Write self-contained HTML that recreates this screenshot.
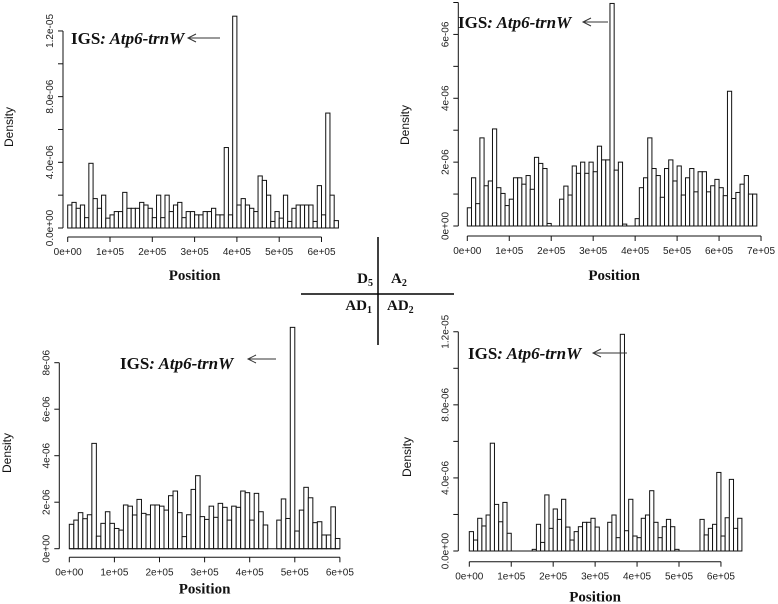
<!DOCTYPE html>
<html><head><meta charset="utf-8"><style>
html,body{margin:0;padding:0;background:#fff;}
svg{display:block;}
.tk{font-family:"Liberation Sans",sans-serif;font-size:10px;fill:#222;}
.ax{font-family:"Liberation Sans",sans-serif;font-size:12px;fill:#111;}
.pos{font-family:"Liberation Serif",serif;font-weight:bold;font-size:15px;fill:#111;}
.ann{font-family:"Liberation Serif",serif;font-weight:bold;font-size:17px;fill:#111;}
</style></head><body>
<svg id="fig" width="778" height="604" viewBox="0 0 778 604" xmlns="http://www.w3.org/2000/svg">
<g>
<line x1="378" y1="237" x2="378" y2="345" stroke="#000" stroke-width="1.5"/>
<line x1="301" y1="294" x2="454" y2="294" stroke="#000" stroke-width="1.5"/>
<text class="pos" x="373" y="283" text-anchor="end">D<tspan font-size="10" dy="3">5</tspan></text>
<text class="pos" x="391" y="283">A<tspan font-size="10" dy="3">2</tspan></text>
<text class="pos" x="372" y="310" text-anchor="end">AD<tspan font-size="10" dy="3">1</tspan></text>
<text class="pos" x="387" y="310">AD<tspan font-size="10" dy="3">2</tspan></text>
</g>
</svg>
<script>
// Values in units of 1e-6 density; bins of 1e4 bp
const d5Values=[1.4,1.56,1.2,1.4,0.63,3.94,1.79,1.2,2.0,0.6,0.8,1.0,1.0,2.17,1.2,1.2,1.2,1.56,1.4,1.2,0.63,2.0,0.63,2.0,1.0,1.4,1.56,0.63,1.0,1.0,0.8,0.8,1.0,1.0,1.2,0.8,0.8,4.9,0.8,12.9,1.4,1.79,1.4,1.2,1.0,3.17,2.9,2.0,0.4,1.0,0.6,2.0,0.4,1.2,1.4,1.4,1.4,1.4,0.4,2.58,0.8,7.0,2.0,0.45];
const a2Values=[0.57,1.51,0.7,2.76,1.26,1.41,3.04,1.2,1.02,0.64,0.84,1.51,1.51,1.31,1.58,1.15,2.15,1.96,1.8,0.08,0,0,0.84,1.25,0.97,1.88,1.65,2.0,1.65,2.0,1.7,2.5,2.07,2.07,6.97,1.75,2.0,0.06,0,0,0.23,1.2,1.51,2.76,1.8,1.58,0.9,1.8,2.07,1.41,1.88,0.97,1.51,1.8,1.07,1.7,1.7,1.07,1.26,1.46,1.2,0.95,4.22,0.86,1.05,1.31,1.58,1.0,1.0];
const ad1Values=[1.05,1.23,1.55,1.29,1.46,4.53,0.54,1.09,1.59,1.09,0.87,0.8,1.88,1.83,1.45,2.12,1.52,1.46,1.88,1.88,1.83,1.66,2.28,2.48,1.55,0.52,1.46,2.55,3.14,1.38,1.26,1.83,1.35,1.95,1.78,1.23,1.83,1.78,2.48,2.41,1.23,2.38,1.59,1.02,0,0,1.23,2.14,1.3,9.52,0.76,1.66,2.64,2.19,1.12,1.16,0.59,0.59,1.8,0.44];
const ad2Values=[1.06,0.6,1.79,1.37,1.97,5.9,2.55,1.6,2.66,0.97,0,0,0,0,0,0.09,1.46,0.47,3.07,1.24,2.3,1.73,2.83,1.31,0.6,1.06,1.33,1.57,1.57,1.79,1.31,0,0,1.57,1.97,0.73,11.86,1.11,2.83,0.82,0.73,1.79,1.97,3.3,1.57,0.73,1.33,1.73,1.33,0.09,0,0,0,0,0,1.73,0.88,1.24,1.46,4.3,0.82,1.82,3.92,1.24,1.79];
const xTicks6=["0e+00","1e+05","2e+05","3e+05","4e+05","5e+05","6e+05"];
const xTicks7=["0e+00","1e+05","2e+05","3e+05","4e+05","5e+05","6e+05","7e+05"];
const yTicksA=[0,4,8,12], yLabA=["0.0e+00","4.0e-06","8.0e-06","1.2e-05"];
const yTicksB=[0,2,4,6], yLabB=["0e+00","2e-06","4e-06","6e-06"];
const yTicksC=[0,2,4,6,8], yLabC=["0e+00","2e-06","4e-06","6e-06","8e-06"];
const NS="http://www.w3.org/2000/svg";
const svg=document.getElementById('fig');
function mk(tag,attrs,parent){const e=document.createElementNS(NS,tag);for(const k in attrs)e.setAttribute(k,attrs[k]);parent.appendChild(e);return e;}
function panel(p){
  const g=mk('g',{},svg);
  
  
  const sx=v=>p.x0+v*p.pxPer1e5/10;
  const sy=v=>p.base-v*p.pxPerUnit;
  p.values.forEach((v,i)=>{
    if(v<=0) return;
    const r=mk('rect',{x:sx(i),y:sy(v),width:p.pxPer1e5/10,height:p.base-sy(v),fill:'#fff',stroke:'#111','stroke-width':1},g);
    
    
  });
  mk('line',{x1:sx(0),y1:p.base,x2:sx(p.values.length),y2:p.base,stroke:'#111','stroke-width':1},g);
  const xa=mk('g',{},g);
  
  
  const xl=p.xTicks.length-1;
  mk('line',{x1:p.x0,y1:p.xAxisY,x2:p.x0+xl*p.pxPer1e5,y2:p.xAxisY,stroke:'#111','stroke-width':1},xa);
  p.xTicks.forEach((t,i)=>{
    const x=p.x0+i*p.pxPer1e5;
    mk('line',{x1:x,y1:p.xAxisY,x2:x,y2:p.xAxisY+5,stroke:'#111'},xa);
    const tx=mk('text',{x:x,y:p.xAxisY+18,'text-anchor':'middle',class:'tk'},xa);
    tx.textContent=t;
    
    
  });
  const pt=mk('text',{x:p.x0+xl*p.pxPer1e5/2,y:p.xAxisY+p.titleDy,'text-anchor':'middle',class:'pos'},xa);
  pt.textContent='Position';
  
  
  const ya=mk('g',{},g);
  
  
  const ymax=p.yAxisMax;
  mk('line',{x1:p.yAxisX,y1:sy(0),x2:p.yAxisX,y2:sy(ymax),stroke:'#111'},ya);
  for(let v=0;v<=ymax+1e-9;v+=p.yMinor){
    mk('line',{x1:p.yAxisX-5,y1:sy(v),x2:p.yAxisX,y2:sy(v),stroke:'#111'},ya);
  }
  p.yTicks.forEach((v,i)=>{
    const y=sy(v);
    const tx=mk('text',{x:0,y:0,'text-anchor':'middle',class:'tk',transform:`translate(${p.yAxisX-10},${y}) rotate(-90)`},ya);
    tx.textContent=p.yLabels[i];
    
    
  });
  const dt=mk('text',{x:0,y:0,'text-anchor':'middle',class:'ax',transform:`translate(${p.densX},${p.densY}) rotate(-90)`},ya);
  dt.textContent='Density';
  
  
  const an=mk('text',{x:p.ann[0],y:p.ann[1],class:'ann'},g);
  
  
  an.innerHTML='IGS<tspan font-style="italic">: Atp6-trnW</tspan>';
  const ar=mk('g',{},g);
  
  
  const [a1,a2,ay]=p.arrow;
  mk('line',{x1:a1,y1:ay,x2:a2,y2:ay,stroke:'#333','stroke-width':1},ar);
  mk('polyline',{points:`${a1+8},${ay-4} ${a1},${ay} ${a1+8},${ay+4}`,fill:'none',stroke:'#333','stroke-width':1},ar);
}
panel({name:'panel-d5',values:d5Values,x0:67.7,pxPer1e5:42.3,base:228,pxPerUnit:16.42,xAxisY:237,titleDy:43,xTicks:xTicks6,yAxisX:63,yAxisMax:12,yMinor:2,yTicks:yTicksA,yLabels:yLabA,densX:13,densY:127,ann:[71,44],arrow:[188,220,38]});
panel({name:'panel-a2',values:a2Values,x0:467.3,pxPer1e5:41.96,base:226,pxPerUnit:31.93,xAxisY:236,titleDy:44,xTicks:xTicks7,yAxisX:458.3,yAxisMax:7,yMinor:1,yTicks:yTicksB,yLabels:yLabB,densX:409,densY:125,ann:[458,28],arrow:[583,608,22]});
panel({name:'panel-ad1',values:ad1Values,x0:69.3,pxPer1e5:45.1,base:548.7,pxPerUnit:23.25,xAxisY:557.3,titleDy:36,xTicks:xTicks6,yAxisX:59.3,yAxisMax:8,yMinor:2,yTicks:yTicksC,yLabels:yLabC,densX:11,densY:453,ann:[120,369],arrow:[248,276,359]});
panel({name:'panel-ad2',values:ad2Values,x0:469.3,pxPer1e5:41.94,base:551,pxPerUnit:18.27,xAxisY:561.7,titleDy:40,xTicks:xTicks6,yAxisX:458.3,yAxisMax:12,yMinor:2,yTicks:yTicksA,yLabels:yLabA,densX:411,densY:457,ann:[468,359],arrow:[593,627,353]});
</script>
</body></html>
